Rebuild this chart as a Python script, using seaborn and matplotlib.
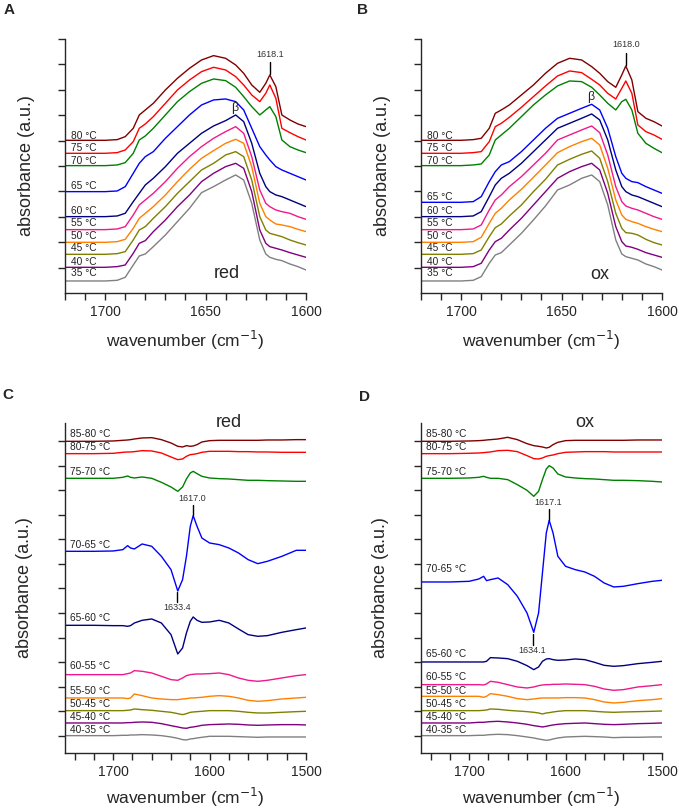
import numpy as np
import pandas as pd
import matplotlib
matplotlib.use("Agg")
import matplotlib.pyplot as plt
from matplotlib.ticker import MultipleLocator
import seaborn as sns

# --- data (absorbance in arbitrary units, stacked) ---

# panels A / B : temperature series
temps_ab = ["35 °C", "40 °C", "45 °C", "50 °C", "55 °C",
            "60 °C", "65 °C", "70 °C", "75 °C", "80 °C"]
wn_ab = [1720, 1700, 1694, 1690, 1686, 1683, 1680, 1676, 1670, 1664, 1658, 1652, 1646,
         1640, 1635, 1631, 1627, 1623, 1620, 1618, 1615, 1612, 1608, 1604, 1600]

red_35 = [36, 36, 38, 47, 84, 111, 117, 139, 174, 214, 254, 301, 319, 339, 354, 339, 269, 159, 117, 107, 101, 97, 87, 79, 69]
red_40 = [77, 77, 79, 84, 119, 149, 157, 184, 219, 259, 294, 334, 359, 379, 389, 374, 304, 189, 149, 139, 134, 129, 121, 114, 107]
red_45 = [116, 116, 118, 124, 159, 189, 199, 224, 259, 299, 334, 369, 389, 414, 424, 409, 339, 229, 189, 179, 174, 169, 159, 151, 144]
red_50 = [152, 152, 154, 161, 194, 224, 239, 259, 294, 334, 371, 404, 427, 449, 461, 449, 379, 269, 229, 219, 207, 204, 199, 191, 184]
red_55 = [190, 190, 192, 199, 234, 264, 279, 299, 334, 374, 409, 439, 464, 484, 499, 479, 409, 309, 269, 259, 249, 244, 239, 229, 221]
red_60 = [229, 229, 231, 239, 274, 299, 324, 344, 379, 419, 449, 479, 501, 517, 534, 514, 449, 359, 319, 304, 294, 289, 279, 269, 259]
red_65 = [304, 304, 306, 319, 359, 389, 409, 424, 464, 499, 534, 564, 579, 582, 574, 549, 494, 439, 414, 399, 379, 369, 359, 349, 339]
red_70 = [382, 382, 384, 391, 419, 459, 471, 494, 534, 574, 604, 629, 642, 637, 617, 589, 559, 534, 549, 559, 529, 459, 439, 429, 421]
red_75 = [419, 419, 421, 429, 454, 494, 507, 529, 569, 609, 639, 664, 677, 669, 649, 624, 594, 574, 599, 624, 584, 494, 481, 469, 459]
red_80 = [458, 458, 460, 469, 494, 534, 549, 569, 609, 644, 674, 699, 712, 704, 684, 659, 624, 602, 629, 654, 619, 534, 519, 507, 499]

ox_35 = [36, 36, 38, 49, 89, 114, 121, 144, 179, 219, 261, 309, 324, 344, 354, 334, 264, 159, 117, 109, 104, 99, 87, 79, 69]
ox_40 = [77, 77, 79, 89, 129, 154, 164, 189, 224, 264, 304, 344, 364, 379, 389, 369, 299, 199, 154, 141, 137, 131, 121, 114, 107]
ox_45 = [116, 116, 118, 129, 169, 196, 207, 231, 264, 304, 341, 384, 401, 416, 426, 404, 334, 239, 194, 181, 179, 174, 161, 151, 144]
ox_50 = [152, 152, 154, 167, 209, 239, 254, 279, 311, 347, 384, 421, 439, 454, 464, 444, 374, 279, 234, 221, 214, 209, 199, 191, 184]
ox_55 = [190, 190, 192, 204, 249, 279, 294, 319, 349, 384, 419, 459, 474, 489, 501, 481, 414, 319, 274, 261, 254, 249, 239, 229, 221]
ox_60 = [229, 229, 231, 244, 289, 324, 344, 359, 389, 424, 459, 494, 509, 524, 537, 519, 459, 369, 319, 304, 294, 289, 279, 269, 259]
ox_65 = [272, 272, 274, 289, 334, 364, 384, 394, 424, 459, 494, 524, 539, 554, 566, 549, 494, 409, 359, 344, 334, 331, 319, 309, 299]
ox_70 = [382, 382, 384, 387, 414, 459, 474, 494, 529, 564, 594, 621, 636, 634, 617, 594, 569, 549, 574, 581, 549, 479, 449, 434, 421]
ox_75 = [419, 419, 421, 424, 454, 499, 509, 527, 557, 589, 621, 651, 666, 661, 641, 624, 599, 582, 614, 636, 599, 504, 484, 474, 461]
ox_80 = [458, 458, 460, 464, 494, 539, 549, 564, 594, 624, 659, 689, 704, 699, 679, 659, 634, 617, 654, 681, 639, 544, 524, 514, 501]

label_y_a = [60, 94, 134, 171, 209, 247, 321, 396, 435, 471]
label_y_b = [60, 94, 134, 171, 209, 247, 289, 396, 435, 471]

# panels C / D : difference spectra
diffs_cd = ["40-35 °C", "45-40 °C", "50-45 °C", "55-50 °C", "60-55 °C",
            "65-60 °C", "70-65 °C", "75-70 °C", "80-75 °C", "85-80 °C"]
wn_cd = [1750, 1720, 1700, 1690, 1685, 1682, 1678, 1670, 1660, 1650, 1640, 1633, 1628, 1624,
         1620, 1617, 1613, 1608, 1600, 1590, 1580, 1570, 1560, 1550, 1540, 1525, 1510, 1500]

dred_40_35 = [52, 52, 52, 53, 53, 54, 54, 55, 54, 52, 48, 44, 40, 39, 42, 43, 45, 47, 50, 50, 50, 49, 48, 47, 48, 48, 48, 48]
dred_45_40 = [90, 90, 90, 90, 91, 91, 92, 93, 92, 88, 82, 78, 75, 74, 77, 78, 80, 83, 85, 86, 87, 86, 84, 83, 84, 85, 85, 84]
dred_50_45 = [127, 127, 127, 127, 128, 129, 132, 130, 128, 125, 122, 118, 115, 118, 122, 123, 124, 125, 127, 127, 127, 125, 122, 120, 120, 122, 124, 125]
dred_55_50 = [165, 165, 165, 165, 163, 165, 177, 172, 165, 162, 160, 160, 162, 163, 165, 165, 166, 167, 170, 172, 170, 165, 158, 155, 157, 162, 165, 167]
dred_60_55 = [235, 235, 235, 235, 238, 240, 247, 245, 240, 230, 220, 218, 225, 232, 235, 236, 237, 237, 238, 240, 235, 225, 218, 215, 218, 225, 232, 235]
dred_65_60 = [383, 383, 382, 382, 380, 382, 390, 398, 402, 390, 355, 297, 315, 360, 395, 408, 398, 392, 393, 398, 390, 372, 355, 350, 352, 362, 370, 375]
dred_70_65 = [605, 605, 606, 610, 622, 615, 612, 627, 620, 590, 550, 486, 520, 590, 680, 712, 680, 645, 630, 625, 615, 600, 580, 568, 575, 590, 608, 608]
dred_75_70 = [824, 824, 824, 827, 831, 827, 825, 828, 824, 812, 798, 785, 798, 822, 840, 845, 838, 830, 825, 823, 822, 820, 818, 818, 817, 816, 815, 815]
dred_80_75 = [898, 898, 899, 902, 903, 903, 904, 907, 906, 900, 888, 880, 882, 890, 895, 896, 898, 902, 905, 905, 905, 904, 904, 903, 903, 902, 902, 902]
dred_85_80 = [935, 935, 936, 938, 939, 940, 942, 945, 946, 940, 930, 920, 918, 922, 920, 921, 925, 933, 937, 938, 938, 938, 938, 938, 939, 939, 940, 940]

dox_40_35 = [52, 52, 52, 53, 53, 54, 55, 56, 55, 52, 48, 45, 42, 40, 38, 39, 42, 45, 48, 49, 50, 49, 48, 46, 47, 47, 48, 48]
dox_45_40 = [90, 90, 90, 92, 92, 93, 94, 95, 93, 90, 86, 82, 80, 78, 80, 82, 84, 86, 88, 89, 90, 88, 86, 85, 86, 88, 89, 90]
dox_50_45 = [127, 127, 127, 127, 128, 129, 132, 131, 128, 126, 124, 122, 120, 117, 120, 121, 123, 125, 127, 127, 127, 125, 123, 122, 123, 124, 125, 126]
dox_55_50 = [170, 170, 170, 170, 167, 170, 178, 175, 170, 163, 160, 162, 164, 165, 165, 165, 165, 165, 166, 166, 165, 160, 153, 150, 152, 157, 160, 163]
dox_60_55 = [205, 205, 205, 205, 204, 207, 215, 212, 205, 198, 195, 198, 202, 204, 205, 205, 206, 206, 207, 206, 205, 200, 192, 188, 190, 198, 202, 205]
dox_65_60 = [273, 273, 273, 273, 273, 275, 286, 285, 283, 275, 262, 250, 258, 275, 282, 283, 280, 278, 279, 282, 280, 272, 263, 260, 262, 268, 272, 275]
dox_70_65 = [513, 513, 515, 522, 530, 517, 520, 525, 505, 470, 420, 362, 420, 540, 660, 698, 660, 590, 560, 550, 543, 530, 510, 498, 500, 508, 515, 518]
dox_75_70 = [824, 824, 825, 827, 830, 827, 824, 824, 820, 805, 788, 770, 785, 820, 852, 862, 855, 837, 828, 825, 823, 822, 820, 818, 818, 817, 815, 813]
dox_80_75 = [898, 898, 899, 900, 901, 902, 903, 907, 908, 904, 892, 883, 882, 885, 890, 892, 894, 898, 902, 903, 904, 904, 904, 903, 903, 903, 903, 903]
dox_85_80 = [935, 935, 936, 937, 938, 939, 940, 942, 947, 940, 928, 922, 920, 918, 915, 917, 925, 932, 937, 938, 938, 938, 938, 938, 938, 939, 939, 939]

label_y_c = [70, 108, 148, 187, 260, 405, 623, 842, 917, 957]
label_y_d = [70, 108, 148, 187, 227, 298, 553, 842, 917, 957]

colors = ["#808080", "#800080", "#808000", "#ff8000", "#f0198c",
          "#000080", "#0000ff", "#008000", "#ff0000", "#800000"]


def long_frame(wn, series, names):
    rows = []
    for name, vals in zip(names, series):
        rows.append(pd.DataFrame({"wn": wn, "abs": vals, "curve": name}))
    return pd.concat(rows, ignore_index=True)


sns.set_style("ticks")
plt.rcParams["font.family"] = ["Liberation Sans", "DejaVu Sans"]
plt.rcParams["axes.linewidth"] = 1.0

fig = plt.figure(figsize=(6.79, 8.10), dpi=100)
ax_a = fig.add_axes([0.0957, 0.6383, 0.3549, 0.3136])
ax_b = fig.add_axes([0.6200, 0.6383, 0.3549, 0.3136])
ax_c = fig.add_axes([0.0957, 0.0704, 0.3549, 0.4074])
ax_d = fig.add_axes([0.6200, 0.0704, 0.3549, 0.4074])

panels = [
    (ax_a, wn_ab, [red_35, red_40, red_45, red_50, red_55, red_60, red_65, red_70, red_75, red_80],
     temps_ab, label_y_a, 1717),
    (ax_b, wn_ab, [ox_35, ox_40, ox_45, ox_50, ox_55, ox_60, ox_65, ox_70, ox_75, ox_80],
     temps_ab, label_y_b, 1717),
    (ax_c, wn_cd, [dred_40_35, dred_45_40, dred_50_45, dred_55_50, dred_60_55, dred_65_60,
                   dred_70_65, dred_75_70, dred_80_75, dred_85_80], diffs_cd, label_y_c, 1745),
    (ax_d, wn_cd, [dox_40_35, dox_45_40, dox_50_45, dox_55_50, dox_60_55, dox_65_60,
                   dox_70_65, dox_75_70, dox_80_75, dox_85_80], diffs_cd, label_y_d, 1745),
]

for ax, wn, series, names, label_y, label_x in panels:
    df = long_frame(wn, series, names)
    sns.lineplot(data=df, x="wn", y="abs", hue="curve", hue_order=names, palette=colors,
                 estimator=None, legend=False, lw=1.0, ax=ax)
    for name, yl in zip(names, label_y):
        ax.text(label_x, yl, name, fontsize=7.3, ha="left", va="center", color="#222222")
    sns.despine(ax=ax)
    ax.tick_params(axis="both", direction="out", length=5, width=1.0, labelsize=10)
    ax.tick_params(axis="x", which="minor", direction="out", length=5, width=1.0)
    ax.set_ylabel("absorbance (a.u.)", fontsize=13)
    ax.set_xlabel("wavenumber (cm$^{-1}$)", fontsize=12.5)
    ax.xaxis.label.set_va("center")
    ax.yaxis.label.set_va("center")

# top panels
for ax in (ax_a, ax_b):
    ax.set_xlim(1720, 1600)
    ax.set_ylim(0, 762)
    ax.set_xticks([1700, 1650, 1600])
    ax.xaxis.set_minor_locator(MultipleLocator(10))
    ax.set_yticks(np.arange(1, 11) * 76.2)
    ax.set_yticklabels([])
    ax.xaxis.set_label_coords(0.5, -0.185)
    ax.yaxis.set_label_coords(-0.158, 0.5)

# bottom panels
for ax in (ax_c, ax_d):
    ax.set_xlim(1750, 1500)
    ax.set_ylim(0, 990)
    ax.set_xticks([1700, 1600, 1500])
    ax.xaxis.set_minor_locator(MultipleLocator(20))
    ax.set_yticks(52 + np.arange(13) * 73.6)
    ax.set_yticklabels([])
    ax.xaxis.set_label_coords(0.5, -0.136)
    ax.yaxis.set_label_coords(-0.166, 0.5)

# annotations
ann = "#333333"
ax_a.text(1618, 714, "1618.1", fontsize=6.5, ha="center", va="center", color=ann)
ax_a.plot([1618, 1618], [656, 692], color="black", lw=1.0)
ax_a.text(1635.7, 556, "β", fontsize=9, ha="center", va="center")
ax_a.text(1639.5, 59, "red", fontsize=13, ha="center", va="center")

ax_b.text(1618, 744, "1618.0", fontsize=6.5, ha="center", va="center", color=ann)
ax_b.plot([1618, 1618], [683, 719], color="black", lw=1.0)
ax_b.text(1635.7, 589, "β", fontsize=9, ha="center", va="center")
ax_b.text(1631, 54, "ox", fontsize=13, ha="center", va="center")

ax_c.text(1580, 992, "red", fontsize=13, ha="center", va="center", clip_on=False)
ax_c.text(1617.6, 763, "1617.0", fontsize=6.5, ha="center", va="center", color=ann)
ax_c.plot([1617.4, 1617.4], [714, 744], color="black", lw=1.0)
ax_c.text(1634, 435, "1633.4", fontsize=6.5, ha="center", va="center", color=ann)
ax_c.plot([1633.4, 1633.4], [452, 484], color="black", lw=1.0)

ax_d.text(1580, 990, "ox", fontsize=13, ha="center", va="center", clip_on=False)
ax_d.text(1617.6, 750, "1617.1", fontsize=6.5, ha="center", va="center", color=ann)
ax_d.plot([1617.3, 1617.3], [700, 732], color="black", lw=1.0)
ax_d.text(1634.4, 308, "1634.1", fontsize=6.5, ha="center", va="center", color=ann)
ax_d.plot([1634.1, 1634.1], [325, 358], color="black", lw=1.0)

# panel letters
for letter, x, y in [("A", 9, 10), ("B", 363, 10), ("C", 8, 395), ("D", 365, 397)]:
    fig.text(x / 679, 1 - y / 810, letter, fontsize=11, fontweight="bold",
             ha="center", va="center")

fig.savefig("out.png", dpi=100)
